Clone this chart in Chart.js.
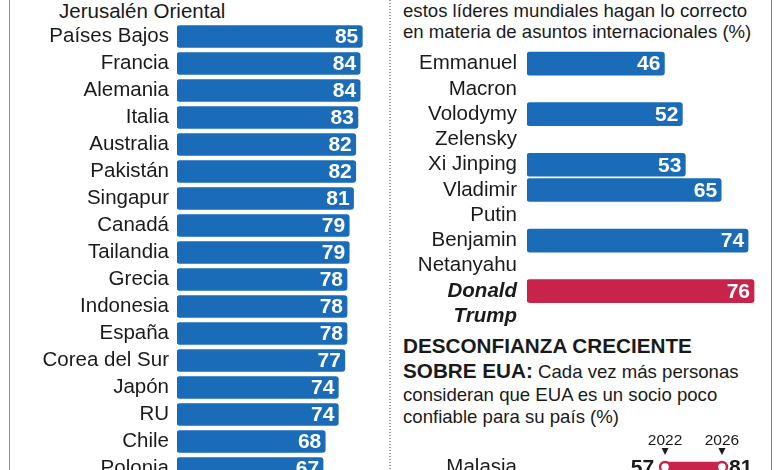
<!DOCTYPE html>
<html lang="es">
<head>
<meta charset="utf-8">
<script src="https://cdn.jsdelivr.net/npm/chart.js@4.4.1/dist/chart.umd.min.js"></script>
<style>
  html, body { margin: 0; padding: 0; background: #fff; }
  body { width: 780px; height: 470px; overflow: hidden; position: relative;
         font-family: "Liberation Sans", Arial, sans-serif; color: #1a1a1a; }
  canvas, .txt, .rule { position: absolute; }
  .txt { white-space: nowrap; }
  .rule { top: 0; height: 470px; }
</style>
</head>
<body>
<div class="rule" style="left:9px;width:1px;background:#8c8c8c"></div>
<div class="rule" style="left:771px;width:1px;background:#7c7c7c"></div>
<div class="rule" style="left:389px;width:2px;background:repeating-linear-gradient(to bottom,#9a9a9a 0 1.5px,transparent 1.5px 3px)"></div>

<div class="txt" style="left:59px;top:-1px;font-size:20.5px;line-height:24px">Jerusalén Oriental</div>
<div class="txt" style="left:403px;top:0px;font-size:18.6px;line-height:21px">estos líderes mundiales hagan lo correcto<br>en materia de asuntos internacionales (%)</div>

<div class="txt" style="left:403px;top:334px;font-size:20.7px;line-height:24px;font-weight:bold">DESCONFIANZA CRECIENTE</div>
<div class="txt" style="left:403px;top:359px;font-size:18.6px;line-height:24px"><b style="font-size:20.7px">SOBRE EUA:</b> Cada vez más personas</div>
<div class="txt" style="left:403px;top:383px;font-size:18.6px;line-height:24px">consideran que EUA es un socio poco</div>
<div class="txt" style="left:403px;top:405px;font-size:18.6px;line-height:24px">confiable para su país (%)</div>

<canvas id="countries" width="395" height="459" style="left:0;top:23px"></canvas>
<canvas id="leaders" width="376" height="278" style="left:390px;top:51px"></canvas>
<canvas id="distrust" width="377" height="90" style="left:390px;top:422px"></canvas>

<script>
const FONT = '"Liberation Sans", Arial, sans-serif';
const BLUE = '#1a6cb9';
const RED = '#c8234b';
const INK = '#1a1a1a';

// confidence by country (%)
const countries = ['Países Bajos', 'Francia', 'Alemania', 'Italia', 'Australia', 'Pakistán',
  'Singapur', 'Canadá', 'Tailandia', 'Grecia', 'Indonesia', 'España', 'Corea del Sur',
  'Japón', 'RU', 'Chile', 'Polonia'];
const countryValues = [85, 84, 84, 83, 82, 82, 81, 79, 79, 78, 78, 78, 77, 74, 74, 68, 67];

// leaders (%)
const leaders = [['Emmanuel', 'Macron'], ['Volodymy', 'Zelensky'], ['Xi Jinping'],
  ['Vladimir', 'Putin'], ['Benjamin', 'Netanyahu'], ['Donald', 'Trump']];
const leaderValues = [46, 52, 53, 65, 74, 76];
const highlightLeader = 'Donald';

// distrust toward USA (%)
const years = ['2022', '2026'];
const distrustCountries = ['Malasia'];
const distrust2022 = [57];
const distrust2026 = [81];

Chart.defaults.font.family = FONT;
Chart.defaults.color = INK;
Chart.defaults.animation = false;
Chart.defaults.plugins.legend.display = false;
Chart.defaults.plugins.tooltip.enabled = false;

const barValueLabels = {
  id: 'barValueLabels',
  afterDatasetsDraw(chart) {
    const {ctx} = chart;
    const data = chart.data.datasets[0].data;
    ctx.save();
    ctx.font = 'bold 21px ' + FONT;
    ctx.fillStyle = '#fff';
    ctx.textAlign = 'right';
    ctx.textBaseline = 'middle';
    chart.getDatasetMeta(0).data.forEach((bar, i) => {
      if (data[i] == null) return;
      ctx.fillText(data[i], bar.x - 4, bar.y + 1);
    });
    ctx.restore();
  }
};

function hbarOptions(yWidth, pad, xMax, tickFont) {
  return {
    responsive: false,
    indexAxis: 'y',
    layout: {padding: 0, autoPadding: false},
    scales: {
      x: {display: false, min: 0, max: xMax},
      y: {
        grid: {display: false, drawTicks: false},
        border: {display: false},
        ticks: {padding: pad, color: INK, font: tickFont, autoSkip: false},
        afterFit: s => {
          s.width = yWidth;
          // slots fill the whole canvas height
          s.paddingTop = 0;
          s.paddingBottom = 0;
        }
      }
    }
  };
}

new Chart(document.getElementById('countries'), {
  type: 'bar',
  data: {
    labels: countries,
    datasets: [{data: countryValues, backgroundColor: BLUE, barThickness: 22,
      borderRadius: 3, borderSkipped: false}]
  },
  options: hbarOptions(177, 8, 100, {size: 20.5}),
  plugins: [barValueLabels]
});

// one slot per text line, the bar sits on the first line of each name
const leaderSlots = [];
const leaderSlotValues = [];
const trumpSlots = [];
leaders.forEach((lines, i) => {
  lines.forEach((line, j) => {
    if (lines[0] === highlightLeader) trumpSlots.push(leaderSlots.length);
    leaderSlots.push(line);
    leaderSlotValues.push(j === 0 ? leaderValues[i] : null);
  });
});

new Chart(document.getElementById('leaders'), {
  type: 'bar',
  data: {
    labels: leaderSlots,
    datasets: [{
      data: leaderSlotValues,
      backgroundColor: leaderSlots.map((_, k) => trumpSlots.includes(k) ? RED : BLUE),
      barThickness: 23, borderRadius: 3, borderSkipped: false
    }]
  },
  options: hbarOptions(137, 10, 80, c => {
    const hi = trumpSlots.includes(c.index);
    return {size: 20.5, weight: hi ? 'bold' : 'normal', style: hi ? 'italic' : 'normal'};
  }),
  plugins: [barValueLabels]
});

const dumbbellLabels = {
  id: 'dumbbellLabels',
  afterDatasetsDraw(chart) {
    const {ctx} = chart;
    const x = chart.scales.x;
    const y = chart.scales.y;
    ctx.save();
    ctx.fillStyle = INK;
    ctx.textBaseline = 'middle';
    ctx.font = 'bold 21px ' + FONT;
    distrustCountries.forEach((c, i) => {
      const py = y.getPixelForValue(i);
      ctx.textAlign = 'right';
      ctx.fillText(distrust2022[i], x.getPixelForValue(distrust2022[i]) - 11, py + 1);
      ctx.textAlign = 'left';
      ctx.fillText(distrust2026[i], x.getPixelForValue(distrust2026[i]) + 7, py + 1);
    });
    // year markers over the first row
    const py0 = y.getPixelForValue(0);
    [distrust2022[0], distrust2026[0]].forEach((v, k) => {
      const px = x.getPixelForValue(v);
      ctx.font = '15.5px ' + FONT;
      ctx.textAlign = 'center';
      ctx.textBaseline = 'alphabetic';
      ctx.fillText(years[k], px, py0 - 22);
      ctx.beginPath();
      ctx.moveTo(px - 3.5, py0 - 19);
      ctx.lineTo(px + 3.5, py0 - 19);
      ctx.lineTo(px, py0 - 12);
      ctx.closePath();
      ctx.fill();
    });
    ctx.restore();
  }
};

const pointSet = data => ({
  type: 'line', data, showLine: false, pointRadius: 5, pointBorderWidth: 2.5,
  pointBackgroundColor: '#fff', pointBorderColor: RED
});

new Chart(document.getElementById('distrust'), {
  type: 'bar',
  data: {
    labels: distrustCountries,
    datasets: [
      pointSet(distrust2022),
      pointSet(distrust2026),
      {data: distrustCountries.map((_, i) => [distrust2022[i], distrust2026[i]]),
        backgroundColor: RED, barThickness: 10, borderSkipped: false}
    ]
  },
  options: hbarOptions(140, 13, 100, {size: 20.5}),
  plugins: [dumbbellLabels]
});
</script>
</body>
</html>
